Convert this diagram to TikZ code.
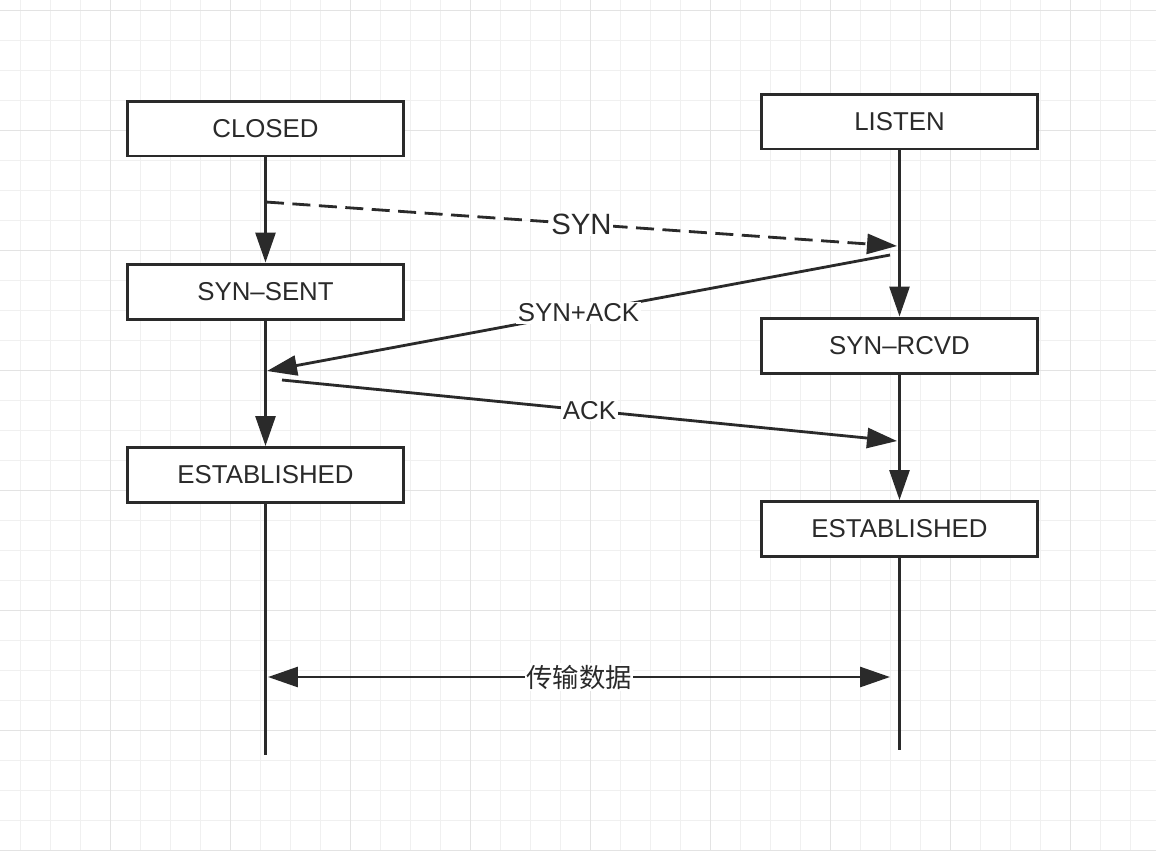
\documentclass[tikz,border=0pt]{standalone}
\usepackage{fontspec}
\setmainfont{Liberation Sans}
\newfontfamily\cjk{Noto Sans CJK SC}
\usetikzlibrary{arrows.meta}
\definecolor{ink}{HTML}{2A2A2A}
\definecolor{gridminor}{HTML}{F0F0F0}
\definecolor{gridmajor}{HTML}{E3E3E3}
\tikzset{state/.style={draw=ink, line width=1.7pt, fill=white,
         minimum width=5.54cm, minimum height=1.1cm, inner sep=0pt,
         text=ink, font=\fontsize{14.7}{16}\selectfont},
         flow/.style={draw=ink, line width=1.6pt,
         -{Triangle[length=0.6cm,width=0.4cm]}},
         bothway/.style={draw=ink, line width=1.6pt,
         {Triangle[length=0.6cm,width=0.4cm]}-{Triangle[length=0.6cm,width=0.4cm]}},
         lifeline/.style={draw=ink, line width=1.6pt},
         msg/.style={fill=white, text=ink, inner sep=1pt,
         font=\fontsize{14.7}{16}\selectfont}}

\begin{document}
\begin{tikzpicture}[x=0.02cm, y=-0.02cm]
\fill[white] (0,0) rectangle (1156,850);
\useasboundingbox (0,0) rectangle (1156,850);

% background grid
\foreach \k in {0,...,38} {
  \pgfmathsetmacro{\gx}{20.7+30*\k}
  \draw[gridminor, line width=0.6pt] (\gx,0) -- (\gx,850);
}
\foreach \k in {0,...,28} {
  \pgfmathsetmacro{\gy}{10.7+30*\k}
  \draw[gridminor, line width=0.6pt] (0,\gy) -- (1156,\gy);
}
\foreach \k in {0,...,9} {
  \pgfmathsetmacro{\gx}{110.7+120*\k}
  \draw[gridmajor, line width=0.6pt] (\gx,0) -- (\gx,850);
}
\foreach \k in {0,...,7} {
  \pgfmathsetmacro{\gy}{10.7+120*\k}
  \draw[gridmajor, line width=0.6pt] (0,\gy) -- (1156,\gy);
}

% states
\node[state] (closed) at (265.5,128.5) {CLOSED};
\node[state] (synsent) at (265.5,291.5) {SYN--SENT};
\node[state] (estabA) at (265.5,475) {ESTABLISHED};
\node[state] (listen) at (899.5,121.5) {LISTEN};
\node[state] (synrcvd) at (899.5,345.5) {SYN--RCVD};
\node[state] (estabB) at (899.5,529) {ESTABLISHED};

\coordinate (endA) at (265.5,755);
\coordinate (endB) at (899.5,750);

\draw[flow] (closed) -- (synsent);
\draw[flow] (synsent) -- (estabA);
\draw[lifeline] (estabA) -- (endA);
\draw[flow] (listen) -- (synrcvd);
\draw[flow] (synrcvd) -- (estabB);
\draw[lifeline] (estabB) -- (endB);

% handshake
\coordinate (synA) at (266,202);
\coordinate (synB) at (897,246);
\coordinate (sackB) at (890,255);
\coordinate (sackA) at (267,371);
\coordinate (ackA) at (282,380);
\coordinate (ackB) at (897,441);
\coordinate (dataA) at (268,677);
\coordinate (dataB) at (890,677);

\draw[flow, dash pattern=on 0.36cm off 0.17cm] (synA) -- node[msg, font=\fontsize{16.7}{18}\selectfont] {SYN} (synB);
\draw[flow] (sackB) -- node[msg] {SYN+ACK} (sackA);
\draw[flow] (ackA) -- node[msg] {ACK} (ackB);
\draw[bothway] (dataA) -- node[msg, font=\fontsize{15}{16}\selectfont\cjk] {传输数据} (dataB);

\end{tikzpicture}
\end{document}
